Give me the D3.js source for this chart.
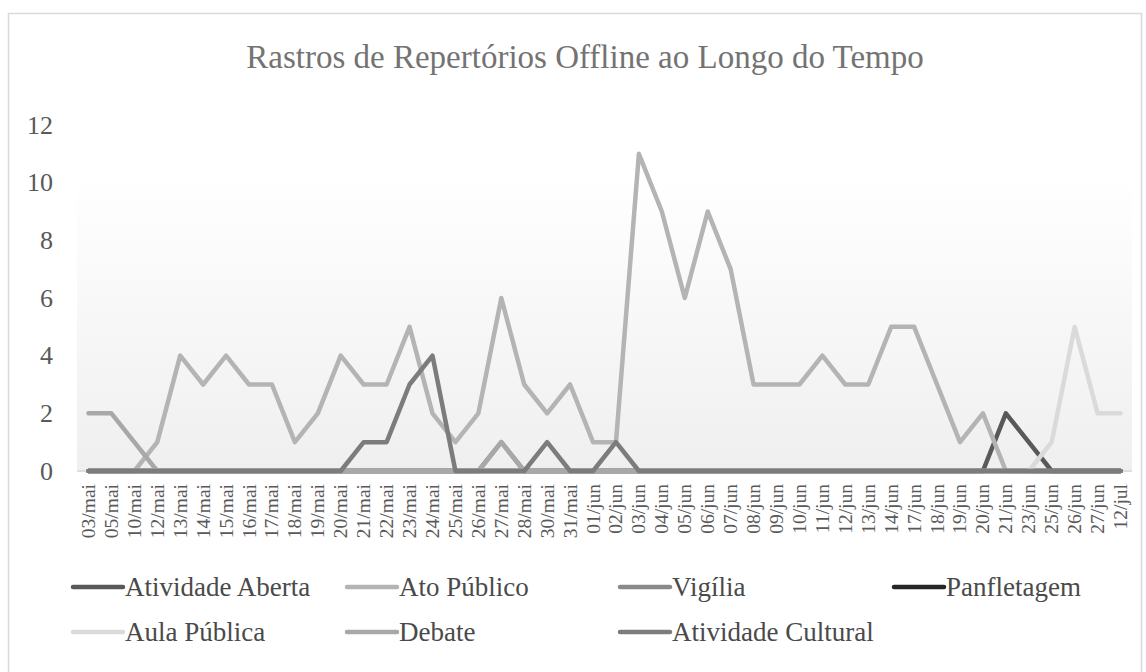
<!DOCTYPE html>
<html>
<head>
<meta charset="utf-8">
<script src="https://cdn.jsdelivr.net/npm/d3@7"></script>
<style>
    body { margin: 0; background: #fff; }
    text { font-family: "Liberation Serif", "Times New Roman", serif; }
</style>
</head>
<body>
<div id="chart"></div>
<script>
// categories (dates on the x axis)
const categories = ["03/mai", "05/mai", "10/mai", "12/mai", "13/mai", "14/mai", "15/mai", "16/mai", "17/mai", "18/mai",
    "19/mai", "20/mai", "21/mai", "22/mai", "23/mai", "24/mai", "25/mai", "26/mai", "27/mai", "28/mai",
    "30/mai", "31/mai", "01/jun", "02/jun", "03/jun", "04/jun", "05/jun", "06/jun", "07/jun", "08/jun",
    "09/jun", "10/jun", "11/jun", "12/jun", "13/jun", "14/jun", "17/jun", "18/jun", "19/jun", "20/jun",
    "21/jun", "23/jun", "25/jun", "26/jun", "27/jun", "12/jul"];

// series values, one per category
const atividadeAberta = [0, 0, 0, 0, 0, 0, 0, 0, 0, 0, 0, 0, 0, 0, 0, 0, 0, 0, 0, 0, 0, 0, 0, 0, 0, 0, 0, 0, 0, 0, 0, 0, 0, 0, 0, 0, 0, 0, 0, 0, 2, 1, 0, 0, 0, 0];
const atoPublico = [0, 0, 0, 1, 4, 3, 4, 3, 3, 1, 2, 4, 3, 3, 5, 2, 1, 2, 6, 3, 2, 3, 1, 1, 11, 9, 6, 9, 7, 3, 3, 3, 4, 3, 3, 5, 5, 3, 1, 2, 0, 0, 0, 0, 0, 0];
const vigilia = [0, 0, 0, 0, 0, 0, 0, 0, 0, 0, 0, 0, 0, 0, 0, 0, 0, 0, 1, 0, 0, 0, 0, 0, 0, 0, 0, 0, 0, 0, 0, 0, 0, 0, 0, 0, 0, 0, 0, 0, 0, 0, 0, 0, 0, 0];
const panfletagem = [0, 0, 0, 0, 0, 0, 0, 0, 0, 0, 0, 0, 0, 0, 0, 0, 0, 0, 0, 0, 0, 0, 0, 0, 0, 0, 0, 0, 0, 0, 0, 0, 0, 0, 0, 0, 0, 0, 0, 0, 0, 0, 0, 0, 0, 0];
const aulaPublica = [0, 0, 0, 0, 0, 0, 0, 0, 0, 0, 0, 0, 0, 0, 0, 0, 0, 0, 0, 0, 0, 0, 0, 0, 0, 0, 0, 0, 0, 0, 0, 0, 0, 0, 0, 0, 0, 0, 0, 0, 0, 0, 1, 5, 2, 2];
const debate = [2, 2, 1, 0, 0, 0, 0, 0, 0, 0, 0, 0, 0, 0, 0, 0, 0, 0, 1, 0, 0, 0, 0, 0, 0, 0, 0, 0, 0, 0, 0, 0, 0, 0, 0, 0, 0, 0, 0, 0, 0, 0, 0, 0, 0, 0];
const atividadeCultural = [0, 0, 0, 0, 0, 0, 0, 0, 0, 0, 0, 0, 1, 1, 3, 4, 0, 0, 0, 0, 1, 0, 0, 1, 0, 0, 0, 0, 0, 0, 0, 0, 0, 0, 0, 0, 0, 0, 0, 0, 0, 0, 0, 0, 0, 0];

const seriesNames = ["Atividade Aberta", "Ato Público", "Vigília", "Panfletagem", "Aula Pública", "Debate", "Atividade Cultural"];
const yTicks = [0, 2, 4, 6, 8, 10, 12];

let series = [
    { name: seriesNames[0], values: atividadeAberta, color: "#595959" },
    { name: seriesNames[1], values: atoPublico, color: "#b4b4b4" },
    { name: seriesNames[2], values: vigilia, color: "#8a8a8a" },
    { name: seriesNames[3], values: panfletagem, color: "#262626" },
    { name: seriesNames[4], values: aulaPublica, color: "#dadada" },
    { name: seriesNames[5], values: debate, color: "#a8a8a8" },
    { name: seriesNames[6], values: atividadeCultural, color: "#7c7c7c" }
];

let width = 1146, height = 672;
let plot = { left: 77, right: 1132, top: 125, bottom: 471 };

let svg = d3.select("#chart")
    .append("svg")
    .attr("width", width)
    .attr("height", height);

// plot area gradient (white to light gray)
let grad = svg.append("defs").append("linearGradient")
    .attr("id", "plotFill")
    .attr("x1", 0).attr("y1", 0).attr("x2", 0).attr("y2", 1);
grad.append("stop").attr("offset", "0%").attr("stop-color", "#ffffff");
grad.append("stop").attr("offset", "15%").attr("stop-color", "#ffffff");
grad.append("stop").attr("offset", "100%").attr("stop-color", "#efefef");

// chart border
svg.append("rect")
    .attr("x", 8.5).attr("y", 13.5)
    .attr("width", 1133).attr("height", 670)
    .attr("fill", "#fff")
    .attr("stroke", "#d9d9d9")
    .attr("stroke-width", 1.5);

let x = d3.scalePoint()
    .domain(categories)
    .range([plot.left, plot.right])
    .padding(0.5);

let y = d3.scaleLinear()
    .domain([0, 12])
    .range([plot.bottom, plot.top]);

svg.append("rect")
    .attr("x", plot.left).attr("y", plot.top)
    .attr("width", plot.right - plot.left)
    .attr("height", plot.bottom - plot.top + 1)
    .attr("fill", "url(#plotFill)");

// title
svg.append("text")
    .attr("x", 585).attr("y", 68)
    .attr("text-anchor", "middle")
    .attr("font-size", 33)
    .attr("fill", "#737373")
    .text("Rastros de Repertórios Offline ao Longo do Tempo");

// y axis labels
let yAxis = svg.append("g")
    .attr("transform", `translate(${plot.left - 24},0)`)
    .call(d3.axisLeft(y).tickValues(yTicks).tickSize(0).tickPadding(0));
yAxis.select(".domain").remove();
yAxis.selectAll("text")
    .attr("font-size", 26)
    .attr("fill", "#595959");

// x axis: baseline and rotated labels
let xAxis = svg.append("g")
    .attr("transform", `translate(0,${plot.bottom})`)
    .call(d3.axisBottom(x).tickSize(0).tickPadding(0));
xAxis.select(".domain")
    .attr("d", `M${plot.left},0H${plot.right}`)
    .attr("stroke", "#d9d9d9")
    .attr("stroke-width", 1.5);
xAxis.selectAll("text")
    .attr("font-size", 19.5)
    .attr("fill", "#595959")
    .attr("text-anchor", "end")
    .attr("dy", null)
    .attr("transform", "translate(6,13) rotate(-90)");

// lines
let line = d3.line()
    .x((d, i) => x(categories[i]))
    .y(d => y(d));

svg.append("g").attr("id", "group_lines")
    .selectAll("path")
    .data(series).enter()
    .append("path")
    .attr("d", s => line(s.values))
    .attr("fill", "none")
    .attr("stroke", s => s.color)
    .attr("stroke-width", 4.5)
    .attr("stroke-linejoin", "round")
    .attr("stroke-linecap", "round");

// legend, four columns
let legendCols = [71, 345, 618, 892];
let legend = svg.append("g").attr("id", "group_legend")
    .selectAll("g")
    .data(series).enter()
    .append("g")
    .attr("transform", (s, i) => `translate(${legendCols[i % 4]},${i < 4 ? 587 : 632})`);

legend.append("line")
    .attr("x1", 2).attr("x2", 52)
    .attr("stroke", s => s.color)
    .attr("stroke-width", 4.5)
    .attr("stroke-linecap", "round");

legend.append("text")
    .attr("x", 54)
    .attr("dy", "0.33em")
    .attr("font-size", 27)
    .attr("fill", "#4a4a4a")
    .text(s => s.name);
</script>
</body>
</html>
